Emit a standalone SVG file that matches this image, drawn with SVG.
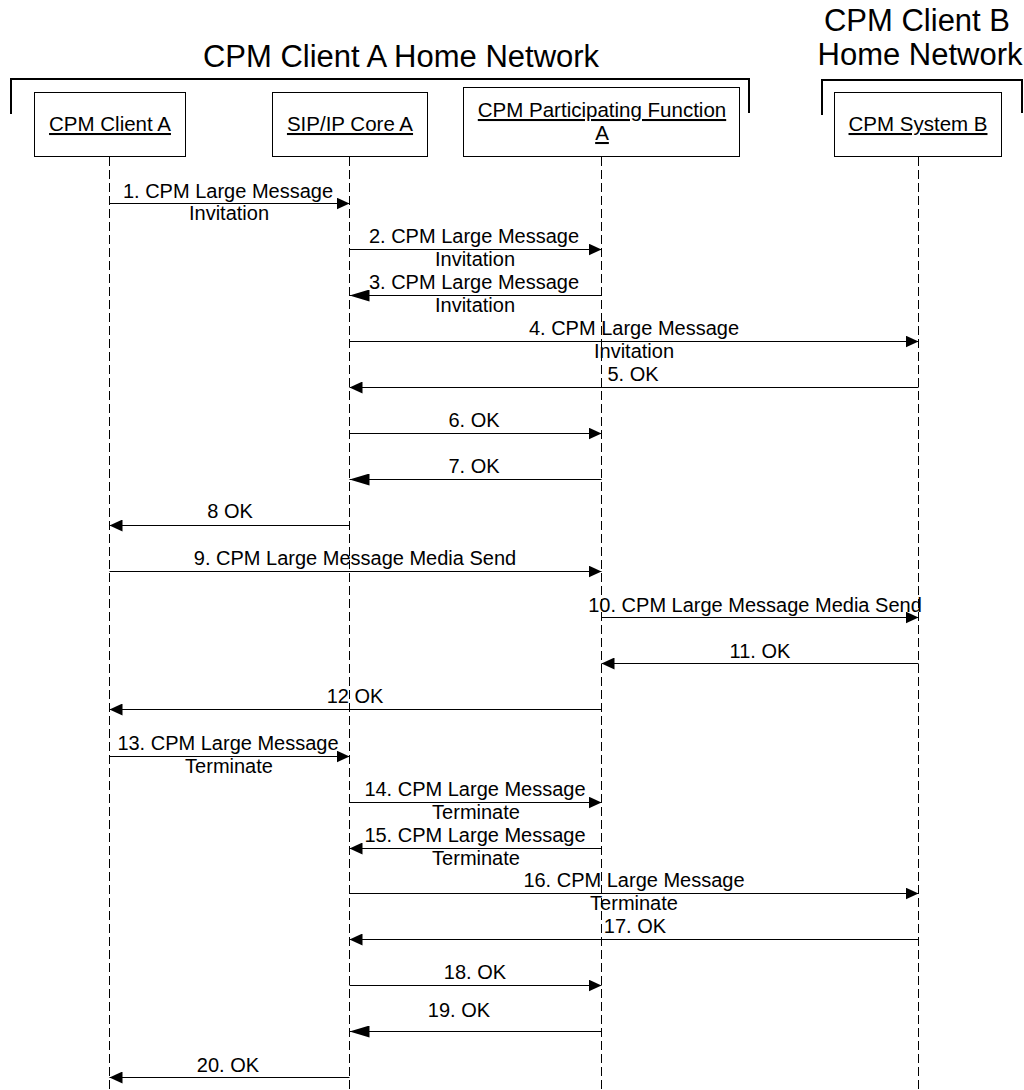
<svg xmlns="http://www.w3.org/2000/svg" width="1024" height="1090" viewBox="0 0 1024 1090">
<style>
  .bg{fill:#fff}
  .box{fill:#fff;stroke:#000;stroke-width:1}
  .brk{fill:none;stroke:#000;stroke-width:2}
  .life{stroke:#000;stroke-width:1;stroke-dasharray:9 4;fill:none}
  .msg{stroke:#000;stroke-width:1;fill:none;marker-end:url(#ah)}
  .msgl{stroke:#000;stroke-width:1;fill:none;marker-end:url(#ahl)}
  text{font-family:"Liberation Sans",Arial,sans-serif;fill:#000}
  .ttl{font-size:31px;text-anchor:middle}
  .nl{font-size:20.5px;text-anchor:middle;text-decoration:underline}
  .lb{font-size:20px;text-anchor:middle}
</style>
<defs>
  <marker id="ah" markerUnits="userSpaceOnUse" markerWidth="14" markerHeight="12" refX="13" refY="6" orient="auto">
    <path d="M0,0 L13,6 L0,12 Z" fill="#000"/>
  </marker>
  <marker id="ahl" markerUnits="userSpaceOnUse" markerWidth="21" markerHeight="12" refX="20" refY="6" orient="auto">
    <path d="M0,0 L20,6 L0,12 Z" fill="#000"/>
  </marker>
</defs>
<rect class="bg" x="0" y="0" width="1024" height="1090"/>

<g id="network-a">
  <text class="ttl" x="401" y="67">CPM Client A Home Network</text>
  <path class="brk" d="M11,114 V79 H749 V113"/>
</g>
<g id="network-b">
  <text class="ttl" x="917" y="31">CPM Client B</text>
  <text class="ttl" x="920" y="65">Home Network</text>
  <path class="brk" d="M822,115 V80 H1022 V113"/>
</g>

<g id="client-a">
  <rect class="box" x="34.5" y="92.5" width="151" height="64"/>
  <text class="nl" x="110" y="131">CPM Client A</text>
  <line class="life" x1="109.5" y1="157" x2="109.5" y2="1090"/>
</g>
<g id="sip-core-a">
  <rect class="box" x="272.5" y="92.5" width="155" height="64"/>
  <text class="nl" x="350" y="131">SIP/IP Core A</text>
  <line class="life" x1="349.5" y1="157" x2="349.5" y2="1090"/>
</g>
<g id="pf-a">
  <rect class="box" x="463.5" y="87.5" width="276" height="69"/>
  <text class="nl" x="602" y="117">CPM Participating Function</text>
  <text class="nl" x="602" y="140">A</text>
  <line class="life" x1="601.5" y1="157" x2="601.5" y2="1090"/>
</g>
<g id="system-b">
  <rect class="box" x="834.5" y="92.5" width="167" height="64"/>
  <text class="nl" x="918" y="131">CPM System B</text>
  <line class="life" x1="918.5" y1="157" x2="918.5" y2="1090"/>
</g>

<g id="connectors">
  <g id="m1"><line class="msg" x1="109.5" y1="203.5" x2="349.5" y2="203.5"/>
    <text class="lb" x="228" y="198">1. CPM Large Message</text><text class="lb" x="229" y="220">Invitation</text></g>
  <g id="m2"><line class="msg" x1="349.5" y1="249.5" x2="601.5" y2="249.5"/>
    <text class="lb" x="474" y="243">2. CPM Large Message</text><text class="lb" x="475" y="266">Invitation</text></g>
  <g id="m3"><line class="msgl" x1="601.5" y1="295.5" x2="349.5" y2="295.5"/>
    <text class="lb" x="474" y="289">3. CPM Large Message</text><text class="lb" x="475" y="312">Invitation</text></g>
  <g id="m4"><line class="msg" x1="349.5" y1="341.5" x2="918.5" y2="341.5"/>
    <text class="lb" x="634" y="335">4. CPM Large Message</text><text class="lb" x="634" y="358">Invitation</text></g>
  <g id="m5"><line class="msg" x1="918.5" y1="387.5" x2="349.5" y2="387.5"/>
    <text class="lb" x="633" y="381">5. OK</text></g>
  <g id="m6"><line class="msg" x1="349.5" y1="433.5" x2="601.5" y2="433.5"/>
    <text class="lb" x="474" y="427">6. OK</text></g>
  <g id="m7"><line class="msgl" x1="601.5" y1="479.5" x2="349.5" y2="479.5"/>
    <text class="lb" x="474" y="473">7. OK</text></g>
  <g id="m8"><line class="msg" x1="349.5" y1="525.5" x2="109.5" y2="525.5"/>
    <text class="lb" x="230" y="518">8 OK</text></g>
  <g id="m9"><line class="msg" x1="109.5" y1="571.5" x2="601.5" y2="571.5"/>
    <text class="lb" x="355" y="565">9. CPM Large Message Media Send</text></g>
  <g id="m10"><line class="msg" x1="601.5" y1="617.5" x2="918.5" y2="617.5"/>
    <text class="lb" x="755" y="612">10. CPM Large Message Media Send</text></g>
  <g id="m11"><line class="msg" x1="918.5" y1="663.5" x2="601.5" y2="663.5"/>
    <text class="lb" x="760" y="658">11. OK</text></g>
  <g id="m12"><line class="msg" x1="601.5" y1="709.5" x2="109.5" y2="709.5"/>
    <text class="lb" x="355" y="703">12 OK</text></g>
  <g id="m13"><line class="msg" x1="109.5" y1="756.5" x2="349.5" y2="756.5"/>
    <text class="lb" x="228" y="750">13. CPM Large Message</text><text class="lb" x="229" y="773">Terminate</text></g>
  <g id="m14"><line class="msg" x1="349.5" y1="802.5" x2="601.5" y2="802.5"/>
    <text class="lb" x="475" y="796">14. CPM Large Message</text><text class="lb" x="476" y="819">Terminate</text></g>
  <g id="m15"><line class="msg" x1="601.5" y1="848.5" x2="349.5" y2="848.5"/>
    <text class="lb" x="475" y="842">15. CPM Large Message</text><text class="lb" x="476" y="865">Terminate</text></g>
  <g id="m16"><line class="msg" x1="349.5" y1="893.5" x2="918.5" y2="893.5"/>
    <text class="lb" x="634" y="887">16. CPM Large Message</text><text class="lb" x="634" y="910">Terminate</text></g>
  <g id="m17"><line class="msg" x1="918.5" y1="939.5" x2="349.5" y2="939.5"/>
    <text class="lb" x="635" y="933">17. OK</text></g>
  <g id="m18"><line class="msg" x1="349.5" y1="985.5" x2="601.5" y2="985.5"/>
    <text class="lb" x="475" y="979">18. OK</text></g>
  <g id="m19"><line class="msgl" x1="601.5" y1="1031.5" x2="349.5" y2="1031.5"/>
    <text class="lb" x="459" y="1017">19. OK</text></g>
  <g id="m20"><line class="msg" x1="349.5" y1="1077.5" x2="109.5" y2="1077.5"/>
    <text class="lb" x="228" y="1072">20. OK</text></g>
</g>
</svg>
